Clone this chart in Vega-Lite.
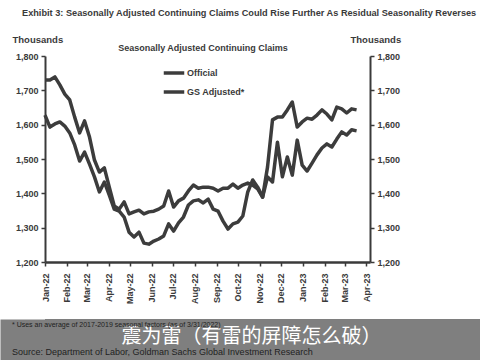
{
  "$schema": "https://vega.github.io/schema/vega-lite/v6.json",
  "padding": {"left": 0, "right": 0, "top": 8, "bottom": 0},
  "background": "white",
  "title": {
    "text": "Exhibit 3: Seasonally Adjusted Continuing Claims Could Rise Further As Residual Seasonality Reverses",
    "anchor": "start",
    "dx": 22,
    "fontSize": 9.2,
    "fontWeight": "bold",
    "font": "Liberation Sans",
    "color": "#3a3a3a",
    "offset": 16
  },
  "align": "all",
  "spacing": 15,
  "datasets": {
    "claims": [
      {"week": "2022-01-01", "official": 1730, "gs": 1628},
      {"week": "2022-01-08", "official": 1730, "gs": 1593},
      {"week": "2022-01-15", "official": 1739, "gs": 1602},
      {"week": "2022-01-22", "official": 1716, "gs": 1608},
      {"week": "2022-01-29", "official": 1689, "gs": 1596},
      {"week": "2022-02-05", "official": 1672, "gs": 1576},
      {"week": "2022-02-12", "official": 1622, "gs": 1541},
      {"week": "2022-02-19", "official": 1576, "gs": 1494},
      {"week": "2022-02-26", "official": 1611, "gs": 1520},
      {"week": "2022-03-05", "official": 1564, "gs": 1485},
      {"week": "2022-03-12", "official": 1497, "gs": 1448},
      {"week": "2022-03-19", "official": 1462, "gs": 1404},
      {"week": "2022-03-26", "official": 1474, "gs": 1433},
      {"week": "2022-04-02", "official": 1418, "gs": 1395},
      {"week": "2022-04-09", "official": 1363, "gs": 1354},
      {"week": "2022-04-16", "official": 1354, "gs": 1348},
      {"week": "2022-04-23", "official": 1375, "gs": 1331},
      {"week": "2022-04-30", "official": 1340, "gs": 1287},
      {"week": "2022-05-07", "official": 1346, "gs": 1273},
      {"week": "2022-05-14", "official": 1351, "gs": 1287},
      {"week": "2022-05-21", "official": 1340, "gs": 1255},
      {"week": "2022-05-28", "official": 1346, "gs": 1252},
      {"week": "2022-06-04", "official": 1348, "gs": 1261},
      {"week": "2022-06-11", "official": 1354, "gs": 1267},
      {"week": "2022-06-18", "official": 1363, "gs": 1276},
      {"week": "2022-06-25", "official": 1407, "gs": 1311},
      {"week": "2022-07-02", "official": 1360, "gs": 1290},
      {"week": "2022-07-09", "official": 1378, "gs": 1314},
      {"week": "2022-07-16", "official": 1386, "gs": 1331},
      {"week": "2022-07-23", "official": 1407, "gs": 1366},
      {"week": "2022-07-30", "official": 1424, "gs": 1378},
      {"week": "2022-08-06", "official": 1415, "gs": 1381},
      {"week": "2022-08-13", "official": 1418, "gs": 1372},
      {"week": "2022-08-20", "official": 1418, "gs": 1383},
      {"week": "2022-08-27", "official": 1415, "gs": 1354},
      {"week": "2022-09-03", "official": 1407, "gs": 1348},
      {"week": "2022-09-10", "official": 1415, "gs": 1319},
      {"week": "2022-09-17", "official": 1415, "gs": 1296},
      {"week": "2022-09-24", "official": 1427, "gs": 1311},
      {"week": "2022-10-01", "official": 1415, "gs": 1316},
      {"week": "2022-10-08", "official": 1424, "gs": 1334},
      {"week": "2022-10-15", "official": 1430, "gs": 1404},
      {"week": "2022-10-22", "official": 1424, "gs": 1439},
      {"week": "2022-10-29", "official": 1413, "gs": 1418},
      {"week": "2022-11-05", "official": 1389, "gs": 1389},
      {"week": "2022-11-12", "official": 1477, "gs": 1448},
      {"week": "2022-11-19", "official": 1614, "gs": 1433},
      {"week": "2022-11-26", "official": 1622, "gs": 1549},
      {"week": "2022-12-03", "official": 1622, "gs": 1448},
      {"week": "2022-12-10", "official": 1643, "gs": 1506},
      {"week": "2022-12-17", "official": 1666, "gs": 1453},
      {"week": "2022-12-24", "official": 1593, "gs": 1555},
      {"week": "2022-12-31", "official": 1608, "gs": 1482},
      {"week": "2023-01-07", "official": 1619, "gs": 1465},
      {"week": "2023-01-14", "official": 1616, "gs": 1488},
      {"week": "2023-01-21", "official": 1628, "gs": 1512},
      {"week": "2023-01-28", "official": 1643, "gs": 1532},
      {"week": "2023-02-04", "official": 1631, "gs": 1544},
      {"week": "2023-02-11", "official": 1614, "gs": 1535},
      {"week": "2023-02-18", "official": 1651, "gs": 1558},
      {"week": "2023-02-25", "official": 1646, "gs": 1579},
      {"week": "2023-03-04", "official": 1634, "gs": 1570},
      {"week": "2023-03-11", "official": 1646, "gs": 1585},
      {"week": "2023-03-18", "official": 1643, "gs": 1582}
    ],
    "note": [
      {"t": "震为雷（有雷的屏障怎么破）"}
    ]
  },
  "vconcat": [
    {
      "width": 325,
      "height": 206,
      "view": {"stroke": null},
      "data": {"name": "claims"},
      "transform": [{"fold": ["official", "gs"], "as": ["series", "value"]}],
      "layer": [
        {
          "mark": {"type": "line", "strokeWidth": 3.5, "strokeJoin": "round"},
          "encoding": {
            "x": {
              "field": "week",
              "type": "temporal",
              "scale": {"type": "utc", "domain": [{"year": 2022, "month": 1, "date": 1, "utc": true}, {"year": 2023, "month": 4, "date": 6, "utc": true}]},
              "axis": {
                "title": null,
                "format": "%b-%y",
                "tickCount": {"interval": "month", "step": 1},
                "labelAngle": -90,
                "labelAlign": "right",
                "labelBaseline": "middle",
                "labelOverlap": false,
                "labelFontSize": 9,
                "labelFontWeight": "bold",
                "labelFont": "Liberation Sans",
                "labelColor": "#3a3a3a",
                "labelPadding": 7,
                "domainColor": "#3a3a3a",
                "domainWidth": 2.5,
                "tickColor": "#3a3a3a",
                "tickWidth": 1.5,
                "tickSize": 4,
                "grid": false
              }
            },
            "y": {
              "field": "value",
              "type": "quantitative",
              "scale": {"domain": [1200, 1800], "nice": false, "zero": false},
              "axis": {
                "title": "Thousands",
                "titleAngle": 0,
                "titleAlign": "left",
                "titleBaseline": "top",
                "titleX": -33,
                "titleY": -22,
                "titleFontSize": 9.5,
                "titleFontWeight": "bold",
                "titleFont": "Liberation Sans",
                "titleColor": "#3a3a3a",
                "values": [1200, 1300, 1400, 1500, 1600, 1700, 1800],
                "format": ",d",
                "labelFontSize": 9,
                "labelFontWeight": "bold",
                "labelFont": "Liberation Sans",
                "labelColor": "#3a3a3a",
                "labelPadding": 3,
                "domainColor": "#3a3a3a",
                "domainWidth": 2,
                "tickColor": "#3a3a3a",
                "tickWidth": 1.5,
                "tickSize": 4,
                "grid": false
              }
            },
            "color": {
              "field": "series",
              "type": "nominal",
              "scale": {"domain": ["official", "gs"], "range": ["#3c3c3c", "#3c3c3c"]},
              "legend": {
                "title": "Seasonally Adjusted Continuing Claims",
                "orient": "none",
                "legendX": 73,
                "legendY": -12,
                "titleAnchor": "middle",
                "titleLimit": 400,
                "titleFontSize": 9,
                "titleFontWeight": "bold",
                "titleFont": "Liberation Sans",
                "titleColor": "#3a3a3a",
                "titlePadding": 8,
                "labelExpr": "datum.label == 'official' ? 'Official' : 'GS Adjusted*'",
                "labelFontSize": 9,
                "labelFontWeight": "bold",
                "labelFont": "Liberation Sans",
                "labelColor": "#3a3a3a",
                "labelOffset": 1,
                "symbolType": "stroke",
                "symbolSize": 420,
                "symbolStrokeWidth": 3.5,
                "rowPadding": 0
              }
            }
          }
        },
        {
          "mark": {"type": "line", "opacity": 0},
          "encoding": {
            "x": {"field": "week", "type": "temporal", "scale": {"type": "utc"}},
            "y": {
              "field": "value",
              "type": "quantitative",
              "scale": {"domain": [1200, 1800], "nice": false, "zero": false},
              "axis": {
                "orient": "right",
                "title": "Thousands",
                "titleAngle": 0,
                "titleAlign": "left",
                "titleBaseline": "top",
                "titleX": -20,
                "titleY": -22,
                "titleFontSize": 9.5,
                "titleFontWeight": "bold",
                "titleFont": "Liberation Sans",
                "titleColor": "#3a3a3a",
                "values": [1200, 1300, 1400, 1500, 1600, 1700, 1800],
                "format": ",d",
                "labelFontSize": 9,
                "labelFontWeight": "bold",
                "labelFont": "Liberation Sans",
                "labelColor": "#3a3a3a",
                "labelPadding": 3,
                "domainColor": "#3a3a3a",
                "domainWidth": 2,
                "tickColor": "#3a3a3a",
                "tickWidth": 1.5,
                "tickSize": 4,
                "grid": false
              }
            },
            "detail": {"field": "series", "type": "nominal"}
          }
        }
      ],
      "resolve": {"scale": {"y": "independent"}}
    },
    {
      "width": 480,
      "height": 42,
      "view": {"fill": "#7f7f7f", "stroke": null},
      "title": {
        "text": "\u00a0\u00a0* Uses an average of 2017-2019 seasonal factors (as of 3/31/2022)",
        "subtitle": "Source: Department of Labor, Goldman Sachs Global Investment Research",
        "anchor": "start",
        "frame": "group",
        "orient": "top",
        "offset": -38,
        "dx": -33,
        "fontSize": 7,
        "fontWeight": "normal",
        "font": "Liberation Sans",
        "color": "#222222",
        "subtitleFontSize": 9,
        "subtitleFont": "Liberation Sans",
        "subtitleColor": "#222222",
        "subtitlePadding": 20
      },
      "data": {"name": "note"},
      "mark": {"type": "text", "fontSize": 20, "color": "white", "font": "Noto Sans CJK SC", "dy": -3, "baseline": "middle", "align": "center"},
      "encoding": {
        "x": {
          "datum": 0.43,
          "type": "quantitative",
          "scale": {"domain": [0, 1], "nice": false, "zero": false},
          "axis": {
            "orient": "bottom",
            "position": -45,
            "offset": -21,
            "domainWidth": 42,
            "domainColor": "#7f7f7f",
            "domainCap": "butt",
            "ticks": false,
            "labels": false,
            "grid": false,
            "title": null
          }
        },
        "text": {"field": "t", "type": "nominal"}
      }
    }
  ]
}
